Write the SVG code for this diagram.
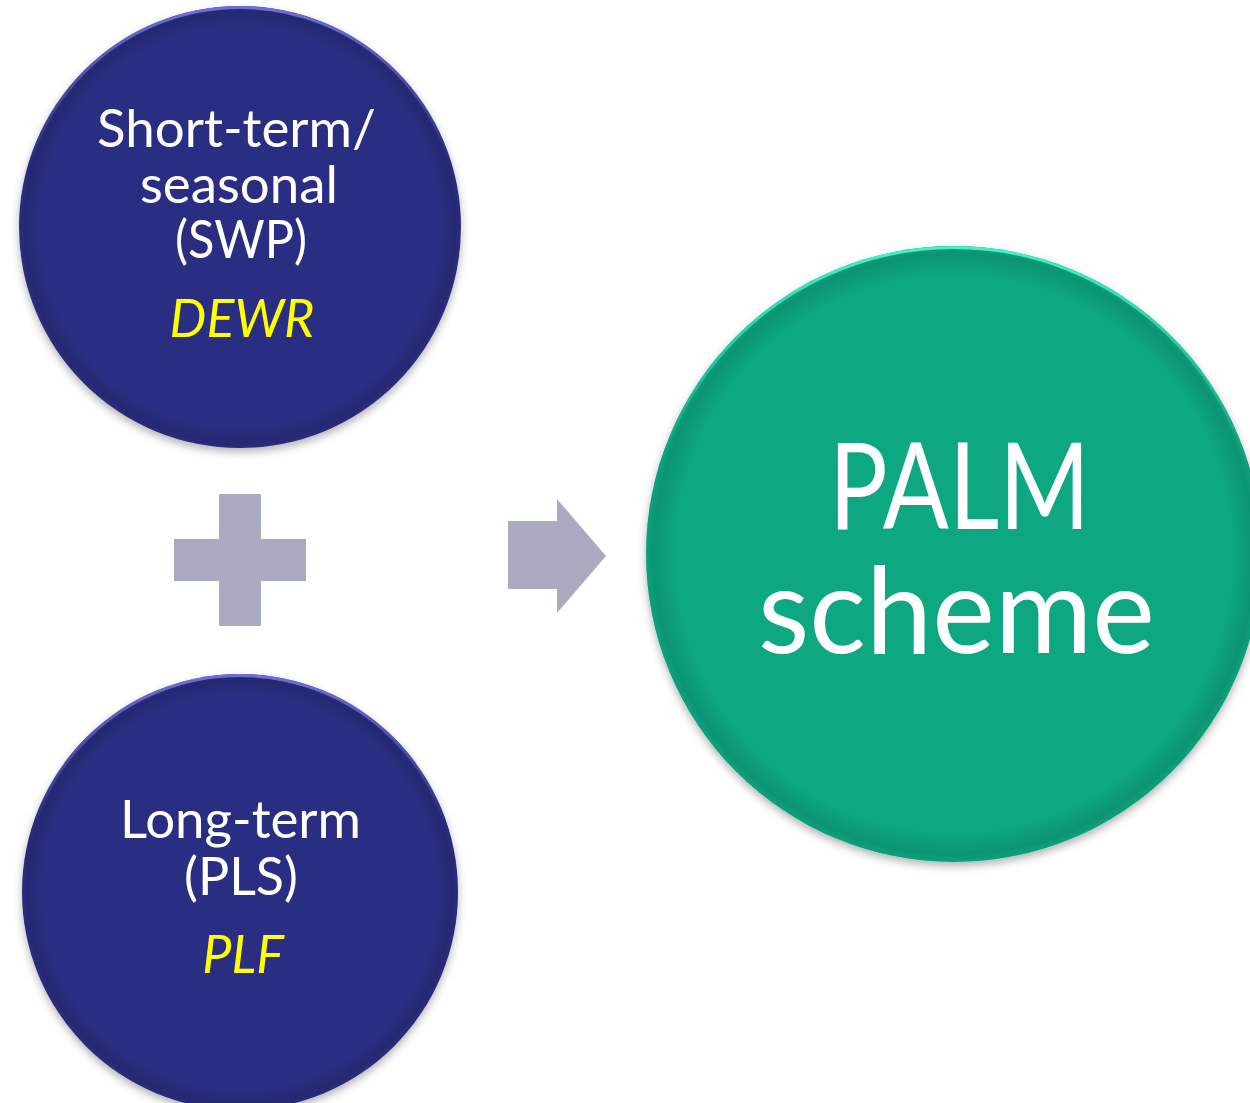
<svg xmlns="http://www.w3.org/2000/svg" width="1250" height="1103" viewBox="0 0 1250 1103">
  <defs>
    <style>
      .lbl { font-family: Lato, "Open Sans", "Liberation Sans", sans-serif; fill: #ffffff; text-anchor: middle; }
      .sm { font-size: 52px; }
      .org { font-size: 52px; font-style: italic; fill: #ffff00; }
      .big { font-size: 120px; }
      .sym { fill: #aaabc0; }
    </style>
    <filter id="shadow" x="-10%" y="-10%" width="120%" height="125%">
      <feDropShadow dx="0" dy="4" stdDeviation="4" flood-color="#000000" flood-opacity="0.3"/>
    </filter>
    <!-- soft rim shading for the round buttons -->
    <radialGradient id="rim" cx="0.5" cy="0.5" r="0.5">
      <stop offset="0.90" stop-color="#000000" stop-opacity="0"/>
      <stop offset="0.975" stop-color="#000000" stop-opacity="0.12"/>
      <stop offset="1" stop-color="#000000" stop-opacity="0.04"/>
    </radialGradient>
    <linearGradient id="hiBlue" x1="0" y1="0" x2="0" y2="1">
      <stop offset="0" stop-color="#7278e0" stop-opacity="0.9"/>
      <stop offset="0.35" stop-color="#7278e0" stop-opacity="0"/>
    </linearGradient>
    <linearGradient id="hiGreen" x1="0" y1="0" x2="0" y2="1">
      <stop offset="0" stop-color="#48f5cc" stop-opacity="0.95"/>
      <stop offset="0.35" stop-color="#48f5cc" stop-opacity="0"/>
    </linearGradient>
  </defs>

  <!-- short-term / seasonal programme -->
  <g id="node-swp">
    <circle cx="240" cy="227" r="221" fill="#2c2f82" filter="url(#shadow)"/>
    <circle cx="240" cy="227" r="221" fill="url(#rim)"/>
    <circle cx="240" cy="227" r="219.5" fill="none" stroke="url(#hiBlue)" stroke-width="3"/>
    <text class="lbl sm" x="236.5" y="147" textLength="279" lengthAdjust="spacingAndGlyphs">Short-term/</text>
    <text class="lbl sm" x="239" y="203" textLength="198" lengthAdjust="spacingAndGlyphs">seasonal</text>
    <text class="lbl sm" x="241" y="258" textLength="132" lengthAdjust="spacingAndGlyphs">(SWP)</text>
    <text class="lbl org" x="242" y="337">DEWR</text>
  </g>

  <!-- long-term programme -->
  <g id="node-pls">
    <circle cx="240" cy="892" r="218" fill="#2c2f82" filter="url(#shadow)"/>
    <circle cx="240" cy="892" r="218" fill="url(#rim)"/>
    <circle cx="240" cy="892" r="216.5" fill="none" stroke="url(#hiBlue)" stroke-width="3"/>
    <text class="lbl sm" x="240.5" y="838" textLength="241" lengthAdjust="spacingAndGlyphs">Long-term</text>
    <text class="lbl sm" x="241" y="895">(PLS)</text>
    <text class="lbl org" x="243" y="973">PLF</text>
  </g>

  <!-- combined scheme -->
  <g id="node-palm">
    <circle cx="954" cy="554" r="308" fill="#09a882" filter="url(#shadow)"/>
    <circle cx="954" cy="554" r="308" fill="url(#rim)"/>
    <circle cx="954" cy="554" r="306.5" fill="none" stroke="url(#hiGreen)" stroke-width="3"/>
    <text class="lbl big" x="959.5" y="529" textLength="261" lengthAdjust="spacingAndGlyphs">PALM</text>
    <text class="lbl big" x="956.5" y="653" textLength="397" lengthAdjust="spacingAndGlyphs">scheme</text>
  </g>

  <!-- plus sign and arrow between the circles -->
  <g id="connectors">
    <path class="sym" d="M219 494 H261 V539 H306 V581 H261 V626 H219 V581 H174 V539 H219 Z"/>
    <path class="sym" d="M508 521 H557 V499 L606 556 L557 613 V589 H508 Z"/>
  </g>
</svg>
